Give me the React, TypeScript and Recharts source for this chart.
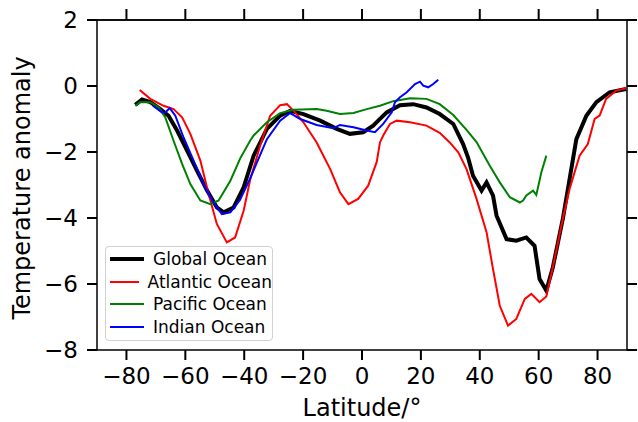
import React from 'react';
import { LineChart, Line, XAxis, YAxis, Legend, Label, ReferenceLine } from 'recharts';

const xTicks = [-80, -60, -40, -20, 0, 20, 40, 60, 80];
const yTicks = [2, 0, -2, -4, -6, -8];

const globalLat = [-77, -74.7, -71.9, -68.5, -65.7, -62.8, -59.4, -56.0, -52.6, -49.3, -47.0, -43.6, -40.2, -36.8, -32.3, -27.8, -24.4, -19.9, -14.2, -8.6, -4.1, 0.4, 3.8, 5.5, 8.4, 12.9, 17.4, 21.9, 26.4, 31, 34.3, 36, 37.7, 40.6, 42.3, 44.5, 45.7, 49.1, 52.4, 55.8, 58.6, 60.3, 62.6, 64.8, 68.2, 70.5, 72.8, 76.2, 79.6, 84.1, 89.7];
const globalVal = [-0.57, -0.41, -0.49, -0.70, -0.9, -1.35, -1.96, -2.57, -3.17, -3.68, -3.83, -3.68, -3.07, -2.11, -1.30, -0.9, -0.75, -0.85, -1.05, -1.30, -1.45, -1.40, -1.20, -1.05, -0.80, -0.58, -0.55, -0.65, -0.85, -1.15, -1.75, -2.16, -2.72, -3.17, -2.92, -3.32, -3.93, -4.64, -4.69, -4.59, -4.84, -5.85, -6.2, -5.5, -4.03, -2.82, -1.61, -0.9, -0.49, -0.19, -0.09];

const atlanticLat = [-75.5, -71.9, -67.4, -64, -61.1, -58.3, -54.9, -52.1, -49.3, -45.9, -43.1, -40.2, -38, -34.6, -31.2, -27.8, -25.5, -22.7, -19.9, -15.4, -10.8, -7.5, -4.6, -1.3, 2.1, 5, 6.1, 7.2, 9.5, 11.8, 16.3, 21.9, 26.4, 29.8, 32.7, 35.5, 38.9, 42.3, 44.5, 46.8, 49.6, 52.4, 55.3, 57.5, 60.3, 62.6, 64.8, 68.2, 70.5, 73.9, 76.7, 79, 80.7, 82.9, 86.3, 89.7];
const atlanticVal = [-0.12, -0.39, -0.6, -0.7, -0.95, -1.45, -2.26, -3.27, -4.18, -4.74, -4.59, -3.78, -2.85, -1.81, -0.9, -0.58, -0.55, -0.8, -1.1, -1.71, -2.52, -3.22, -3.58, -3.42, -3.02, -2.3, -1.71, -1.5, -1.15, -1.05, -1.1, -1.2, -1.42, -1.71, -2.01, -2.52, -3.42, -4.43, -5.55, -6.66, -7.26, -7.06, -6.45, -6.3, -6.55, -6.38, -5.5, -4.03, -3.12, -2.11, -1.76, -1.0, -0.9, -0.39, -0.14, -0.07];

const pacificLat = [-77, -75.3, -71.9, -69, -66.8, -64, -61.1, -58.3, -54.9, -51.5, -48.7, -44.7, -41.4, -38, -36.8, -32.3, -27.8, -23.3, -15.4, -12, -7.5, -2.9, 1.6, 6.1, 10.6, 16.3, 21.9, 26.4, 31, 35.5, 38.9, 43.4, 46.8, 50.2, 53.6, 54.7, 55.8, 58.1, 59.2, 60.9, 62.6];
const pacificVal = [-0.6, -0.49, -0.49, -0.65, -0.95, -1.66, -2.36, -2.97, -3.47, -3.58, -3.47, -2.87, -2.2, -1.66, -1.5, -1.1, -0.82, -0.72, -0.7, -0.75, -0.85, -0.82, -0.7, -0.6, -0.46, -0.37, -0.39, -0.55, -0.88, -1.33, -1.7, -2.42, -2.92, -3.37, -3.53, -3.47, -3.32, -3.17, -3.3, -2.62, -2.11];

const indianLat = [-71, -67.9, -66.8, -65.3, -63.4, -60.6, -57.2, -53.8, -50.9, -47.6, -44.7, -41.4, -38, -36.8, -32.3, -27.8, -24.4, -21, -15.4, -9.7, -7.5, -2.9, 1.6, 4.4, 7.2, 10.1, 11.2, 12.9, 15.2, 18, 19.7, 20.8, 22.5, 24.2, 25.9];
const indianVal = [-0.6, -0.8, -0.8, -0.67, -0.9, -1.56, -2.26, -2.97, -3.47, -3.88, -3.83, -3.45, -2.8, -2.55, -1.61, -1.05, -0.82, -1.0, -1.18, -1.28, -1.18, -1.25, -1.35, -1.40, -1.15, -0.8, -0.49, -0.34, -0.19, 0.06, 0.13, 0.01, -0.04, 0.06, 0.19];

const seriesNames = ['Global Ocean', 'Atlantic Ocean', 'Pacific Ocean', 'Indian Ocean'];
const seriesColors = ['#000000', '#ff0000', '#008000', '#0000ff'];
const seriesWidths = [4, 2, 2, 2];
// series drawn on the top x axis (same domain and range as the bottom one) so that axis renders
const seriesXAxis = ['b', 'b', 'b', 't'];

const toPoints = (lat: number[], val: number[]) => lat.map((l, i) => ({ lat: l, v: val[i] }));
const seriesData = [
  toPoints(globalLat, globalVal),
  toPoints(atlanticLat, atlanticVal),
  toPoints(pacificLat, pacificVal),
  toPoints(indianLat, indianVal),
];

const FONT = '"DejaVu Sans", sans-serif';
const fmt = (v: number) => (v < 0 ? `\u2212${Math.abs(v)}` : `${v}`);
const blank = () => '';

const axisLine = { stroke: '#000', strokeWidth: 1.5 };
const tickLine = { stroke: '#000', strokeWidth: 2 };
const tickStyle = { fill: '#000', fontSize: 23, fontFamily: FONT };

const LegendBox = () => (
  <div
    style={{
      boxSizing: 'border-box',
      width: 168,
      height: 95,
      border: '1px solid #d0d0d0',
      borderRadius: 4,
      background: 'rgba(255,255,255,0.85)',
      padding: '1px 0 0 4px',
      fontFamily: FONT,
      fontSize: 17,
      color: '#000',
    }}
  >
    {seriesNames.map((n, i) => (
      <div key={n} style={{ display: 'flex', alignItems: 'center', height: 22.6 }}>
        <svg width={34} height={10} style={{ marginRight: 9 }}>
          <line x1={0} y1={5} x2={34} y2={5} stroke={seriesColors[i]} strokeWidth={seriesWidths[i]} />
        </svg>
        <span style={{ whiteSpace: 'nowrap' }}>{n}</span>
      </div>
    ))}
  </div>
);

export default function App() {
  return (
    <div style={{ position: 'absolute', left: 0, top: 0, width: 638, height: 422, background: '#fff' }}>
      <LineChart width={638} height={422} margin={{ top: 19, right: 0, bottom: 0, left: 0 }}>
        <XAxis
          xAxisId="b"
          dataKey="lat"
          type="number"
          domain={[-90, 90]}
          ticks={xTicks}
          orientation="bottom"
          height={72}
          tickSize={10}
          tickMargin={8}
          tickFormatter={fmt}
          tick={tickStyle}
          axisLine={axisLine}
          tickLine={tickLine}
          allowDataOverflow
        >
          <Label value="Latitude/°" position="insideBottom" offset={6} fill="#000" fontSize={24} fontFamily={FONT} />
        </XAxis>
        <XAxis
          xAxisId="t"
          dataKey="lat"
          type="number"
          domain={[-90, 90]}
          ticks={xTicks}
          orientation="top"
          height={1}
          tickSize={11}
          tickFormatter={blank}
          tick={tickStyle}
          axisLine={axisLine}
          tickLine={tickLine}
          allowDataOverflow
        />
        <YAxis
          yAxisId="l"
          type="number"
          domain={[-8, 2]}
          ticks={yTicks}
          width={97}
          tickSize={10}
          tickMargin={9}
          tickFormatter={fmt}
          tick={tickStyle}
          axisLine={axisLine}
          tickLine={tickLine}
          allowDataOverflow
        >
          <Label
            content={() => (
              <text x={30} y={188} transform="rotate(-90 30 188)" textAnchor="middle" fill="#000" fontSize={24} fontFamily={FONT}>
                Temperature anomaly
              </text>
            )}
          />
        </YAxis>
        <YAxis
          yAxisId="r"
          type="number"
          orientation="right"
          domain={[-8, 2]}
          ticks={yTicks}
          width={11}
          tickSize={10}
          tickFormatter={blank}
          tick={tickStyle}
          axisLine={axisLine}
          tickLine={tickLine}
          allowDataOverflow
        />
        <ReferenceLine xAxisId="b" yAxisId="l" y={2} stroke="#000" strokeWidth={1.5} ifOverflow="visible" />
        {seriesData.map((d, i) => (
          <Line
            key={seriesNames[i]}
            xAxisId={seriesXAxis[i]}
            yAxisId="l"
            data={d}
            dataKey="v"
            name={seriesNames[i]}
            type="linear"
            stroke={seriesColors[i]}
            strokeWidth={seriesWidths[i]}
            dot={false}
            activeDot={false}
            isAnimationActive={false}
          />
        ))}
        <Legend
          layout="vertical"
          align="center"
          verticalAlign="middle"
          wrapperStyle={{ left: 105, top: 246, width: 168, height: 95 }}
          content={() => <LegendBox />}
        />
      </LineChart>
    </div>
  );
}
